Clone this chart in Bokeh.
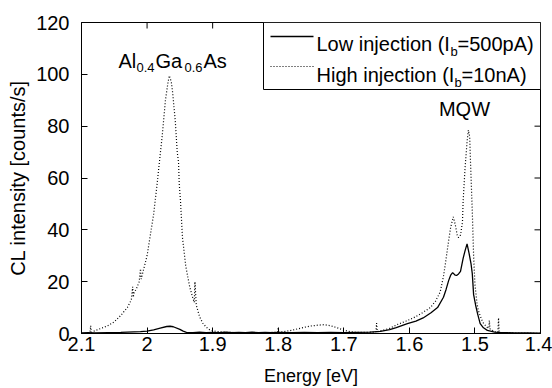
from bokeh.plotting import figure
from bokeh.models import (ColumnDataSource, FixedTicker, Label,
                          BoxAnnotation, Arrow, Range1d)
from bokeh.embed import file_html
from bokeh.resources import INLINE

# ---------------- data ----------------
x_ticks = [2.1, 2.0, 1.9, 1.8, 1.7, 1.6, 1.5, 1.4]
x_tick_labels = ["2.1", "2", "1.9", "1.8", "1.7", "1.6", "1.5", "1.4"]
y_ticks = [0, 20, 40, 60, 80, 100, 120]

high_energy = [
    2.095, 2.09, 2.087, 2.086, 2.085, 2.08, 2.07, 2.06, 2.05, 2.04,
    2.03, 2.024, 2.022, 2.021, 2.02, 2.015, 2.012, 2.01, 2.009, 2.005,
    2.0, 1.995, 1.99, 1.985, 1.98, 1.977, 1.972, 1.968, 1.966, 1.963,
    1.961, 1.957, 1.954, 1.952, 1.951, 1.949, 1.946, 1.941, 1.935, 1.93,
    1.928, 1.927, 1.925, 1.92, 1.915, 1.91, 1.905, 1.9, 1.89, 1.88,
    1.87, 1.86, 1.85, 1.84, 1.83, 1.82, 1.81, 1.801, 1.8, 1.799,
    1.79, 1.78, 1.77, 1.76, 1.75, 1.74, 1.73, 1.72, 1.71, 1.70,
    1.69, 1.68, 1.67, 1.66, 1.651, 1.65, 1.649, 1.644, 1.63, 1.618,
    1.605, 1.594, 1.58, 1.568, 1.56, 1.553, 1.548, 1.545, 1.54, 1.537,
    1.533, 1.53, 1.527, 1.525, 1.522, 1.519, 1.518, 1.515, 1.512, 1.51,
    1.508, 1.507, 1.504, 1.502, 1.5, 1.497, 1.495, 1.49, 1.487, 1.482,
    1.479, 1.478, 1.477, 1.47, 1.465, 1.464, 1.463, 1.455, 1.44, 1.43,
    1.42, 1.41, 1.40]
high_counts = [
    0.0, 0.2, 0.5, 3.0, 0.5, 1.0, 2.0, 3.0, 4.5, 7.0,
    10.0, 13.0, 18.0, 14.0, 15.5, 18.0, 20.0, 25.0, 21.0, 25.0,
    30.0, 38.0, 46.0, 57.0, 69.0, 76.0, 90.0, 97.0, 99.5, 97.0,
    93.0, 82.0, 70.0, 66.0, 58.0, 51.0, 37.0, 26.0, 18.0, 13.5,
    12.0, 20.0, 11.0, 6.5, 4.0, 2.5, 1.5, 1.0, 0.7, 0.5,
    0.4, 0.3, 0.3, 0.3, 0.4, 0.3, 0.4, 0.5, 2.3, 0.5,
    0.8, 1.2, 1.8, 2.4, 2.9, 3.2, 3.4, 3.0, 2.2, 1.3,
    0.7, 0.4, 0.4, 0.5, 0.6, 4.0, 0.7, 1.0, 2.0, 3.5,
    4.8, 6.0, 8.0, 10.0, 12.5, 16.0, 22.0, 27.0, 36.0, 41.0,
    45.0, 42.0, 38.0, 37.0, 38.0, 43.0, 51.0, 64.0, 74.0, 78.5,
    76.0, 68.0, 47.0, 30.0, 19.0, 12.0, 9.0, 5.5, 4.0, 2.5,
    2.0, 5.0, 1.8, 0.7, 0.5, 6.0, 0.4, 0.3, 0.2, 0.2,
    0.2, 0.1, 0.1]

low_energy = [
    2.1, 2.09, 2.08, 2.06, 2.04, 2.03, 2.02, 2.01, 2.0, 1.99,
    1.98, 1.97, 1.965, 1.96, 1.95, 1.945, 1.94, 1.93, 1.92, 1.91,
    1.9, 1.89, 1.88, 1.87, 1.86, 1.85, 1.84, 1.83, 1.82, 1.81,
    1.8, 1.78, 1.76, 1.74, 1.72, 1.7, 1.68, 1.66, 1.644, 1.63,
    1.62, 1.603, 1.59, 1.579, 1.567, 1.557, 1.548, 1.544, 1.54, 1.537,
    1.534, 1.53, 1.528, 1.525, 1.522, 1.518, 1.515, 1.512, 1.509, 1.506,
    1.504, 1.502, 1.499, 1.496, 1.492, 1.487, 1.481, 1.47, 1.46, 1.45,
    1.44, 1.42, 1.4]
low_counts = [
    0.2, 0.3, 0.2, 0.3, 0.4, 0.5, 0.6, 0.7, 0.9, 1.4,
    2.1, 2.7, 2.8, 2.6, 1.6, 0.9, 0.4, 0.3, 0.5, 0.3,
    0.4, 0.3, 0.5, 0.3, 0.4, 0.3, 0.5, 0.3, 0.4, 0.3,
    0.4, 0.3, 0.4, 0.3, 0.4, 0.3, 0.4, 0.5, 0.8, 1.5,
    2.3, 3.8, 4.8, 6.0, 8.0, 10.0, 14.0, 17.0, 20.5, 22.5,
    23.5, 22.5, 22.4, 23.0, 24.0, 29.0, 32.0, 34.6, 31.0, 27.0,
    23.0, 15.0, 11.0, 7.7, 3.8, 2.2, 1.2, 0.5, 0.3, 0.3,
    0.2, 0.2, 0.1]

# ---------------- figure ----------------
FONT = "Liberation Sans"
X_LO, X_HI = 2.1, 1.4
Y_LO, Y_HI = 0, 120
LEFT, RIGHT, TOP, BOTTOM = 81, 12, 22, 55
W, H = 552, 388
FW, FH = W - LEFT - RIGHT, H - TOP - BOTTOM
TICK = 6  # px


def ex(px):  # canvas px -> data x
    return X_LO + (px - LEFT) * (X_HI - X_LO) / FW


def vy(py):  # canvas px -> data y
    return Y_LO + (TOP + FH - py) * (Y_HI - Y_LO) / FH


p = figure(width=W, height=H, output_backend="svg", toolbar_location=None,
           x_range=Range1d(X_LO, X_HI), y_range=Range1d(Y_LO, Y_HI),
           min_border_left=LEFT, min_border_right=RIGHT,
           min_border_top=TOP, min_border_bottom=BOTTOM)
p.xgrid.visible = False
p.ygrid.visible = False
p.outline_line_color = "black"
p.outline_line_width = 1
p.background_fill_color = "white"
p.border_fill_color = "white"


def style_axis(ax, ticks, standoff):
    ax.ticker = FixedTicker(ticks=ticks, minor_ticks=[])
    ax.major_tick_in = TICK
    ax.major_tick_out = 0
    ax.minor_tick_in = 0
    ax.minor_tick_out = 0
    ax.axis_line_color = "black"
    ax.major_tick_line_color = "black"
    ax.major_label_text_font = FONT
    ax.major_label_text_color = "black"
    ax.major_label_text_font_size = "20px"
    ax.major_label_standoff = standoff
    ax.axis_label_text_font = FONT
    ax.axis_label_text_font_style = "normal"
    ax.axis_label_text_color = "black"


xa = p.xaxis[0]
style_axis(xa, x_ticks, 3)
xa.major_label_overrides = dict(zip(x_ticks, x_tick_labels))
xa.axis_label = "Energy [eV]"
xa.axis_label_text_font_size = "18px"
xa.axis_label_standoff = 12

ya = p.yaxis[0]
style_axis(ya, y_ticks, 12)
ya.axis_label = "CL intensity [counts/s]"
ya.axis_label_text_font_size = "20px"
ya.axis_label_standoff = 4

# mirrored inward ticks on the top and right edges
dx_tick = TICK * (X_LO - X_HI) / FW
dy_tick = TICK * (Y_HI - Y_LO) / FH
p.segment(x0=x_ticks, x1=x_ticks, y0=[Y_HI] * len(x_ticks),
          y1=[Y_HI - dy_tick] * len(x_ticks), line_color="black", line_width=1)
p.segment(x0=[X_HI] * len(y_ticks), x1=[X_HI + dx_tick] * len(y_ticks),
          y0=y_ticks, y1=y_ticks, line_color="black", line_width=1)

# ---------------- curves ----------------
low_src = ColumnDataSource(dict(energy=low_energy, counts=low_counts))
high_src = ColumnDataSource(dict(energy=high_energy, counts=high_counts))
p.line(x="energy", y="counts", source=high_src, line_color="black",
       line_width=1.2, line_dash="1 2")
p.line(x="energy", y="counts", source=low_src, line_color="black",
       line_width=1.3)


# ---------------- texts ----------------
def lab(text, px, py, size, align="left"):
    p.add_layout(Label(x=ex(px), y=vy(py), text=text, text_font=FONT,
                       text_font_size=f"{size}px", text_color="black",
                       text_baseline="alphabetic", text_align=align))


# legend box
p.add_layout(BoxAnnotation(left=ex(263), right=X_HI, bottom=vy(89), top=Y_HI,
                           fill_color="white", fill_alpha=1.0,
                           line_color="black", line_width=1, line_alpha=1.0))
p.add_layout(Arrow(end=None, x_start=ex(270), y_start=vy(36), x_end=ex(313),
                   y_end=vy(36), line_color="black", line_width=1.3))
p.add_layout(Arrow(end=None, x_start=ex(270), y_start=vy(66), x_end=ex(313),
                   y_end=vy(66), line_color="black", line_width=1.2,
                   line_dash="1 2"))
lab("Low injection (I", 316, 43, 20)
lab("b", 450, 51, 13)
lab("=500pA)", 457, 43, 20)
lab("High injection (I", 316, 74, 20)
lab("b", 454, 82, 13)
lab("=10nA)", 461, 74, 20)

# peak annotations
lab("Al", 118, 60, 20)
lab("0.4", 136, 67, 13)
lab("Ga", 155, 60, 20)
lab("0.6", 184, 67, 13)
lab("As", 203, 60, 20)
lab("MQW", 464, 108, 20, align="center")

open("out.html", "w").write(file_html(p, INLINE))
